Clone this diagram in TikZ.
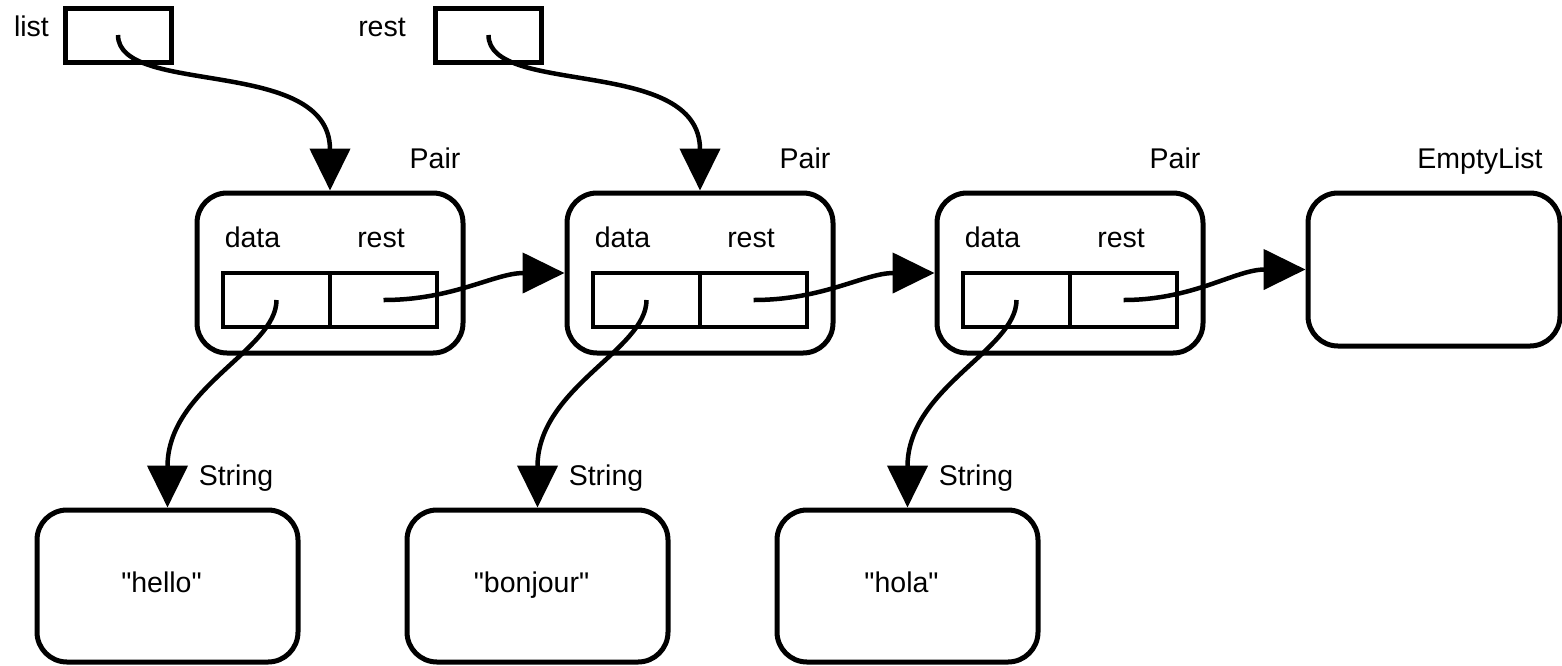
\documentclass[tikz,border=0pt]{standalone}
\usepackage{fontspec}
\setmainfont{Liberation Sans}[Ligatures=TeXOff]
\usetikzlibrary{arrows.meta}
\begin{document}
\begin{tikzpicture}[x=1pt,y=-1pt,
  lbl/.style={font=\fontsize{28.5}{34}\selectfont, anchor=base, inner sep=0pt},
  objbox/.style={draw, line width=5pt, rounded corners=30pt, inner sep=0pt},
  varbox/.style={draw, line width=5pt, minimum width=106pt, minimum height=54pt, inner sep=0pt},
  cellbox/.style={draw, line width=4pt, minimum width=107pt, minimum height=54pt, inner sep=0pt},
  ptr/.style={line width=4.5pt, -{Triangle[length=42pt,width=40pt]}},
]
\useasboundingbox (0,0) rectangle (1562,665);

% variables
\node[lbl] (listlbl) at (31.5,36) {list};
\node[varbox] (listbox) at (118,35) {};
\node[lbl] (restlbl) at (382,36) {rest};
\node[varbox] (restbox) at (488.5,35) {};

% pairs
\foreach \i/\x in {1/330,2/700,3/1070}{
  \node[objbox, minimum width=266pt, minimum height=160pt] (pair\i) at (\x,273) {};
  \node[cellbox] (data\i) at (\x-53.5,300) {};
  \node[cellbox] (rest\i) at (\x+53.5,300) {};
  \node[lbl] (datal\i) at (\x-77.5,247) {data};
  \node[lbl] (restl\i) at (\x+51,247) {rest};
  \node[lbl] (pairl\i) at (\x+105,168) {Pair};
}

% empty list
\node[objbox, minimum width=252pt, minimum height=153pt] (empty) at (1434,269.5) {};
\node[lbl] (emptyl) at (1480,168) {EmptyList};

% strings
\foreach \i/\x/\t in {1/167.5/"hello",2/537.5/"bonjour",3/907.5/"hola"}{
  \node[objbox, minimum width=261pt, minimum height=152pt] (str\i) at (\x,586) {};
  \node[lbl] (strt\i) at (\x-6,592) {\t};
  \node[lbl] (strl\i) at (\x+68.5,485) {String};
}

% pointers
\draw[ptr] (listbox.center) .. controls +(0,62) and +(0,-135) .. (pair1.north);
\draw[ptr] (restbox.center) .. controls +(0,62) and +(0,-135) .. (pair2.north);
\draw[ptr] (rest1.center) .. controls +(70,0) and +(-70,0) .. (pair2.west);
\draw[ptr] (rest2.center) .. controls +(70,0) and +(-70,0) .. (pair3.west);
\draw[ptr] (rest3.center) .. controls +(70,0) and +(-70,0) .. (empty.west);
\draw[ptr] (data1.center) .. controls +(0,50) and +(0,-120) .. (str1.north);
\draw[ptr] (data2.center) .. controls +(0,50) and +(0,-120) .. (str2.north);
\draw[ptr] (data3.center) .. controls +(0,50) and +(0,-120) .. (str3.north);
\end{tikzpicture}
\end{document}
